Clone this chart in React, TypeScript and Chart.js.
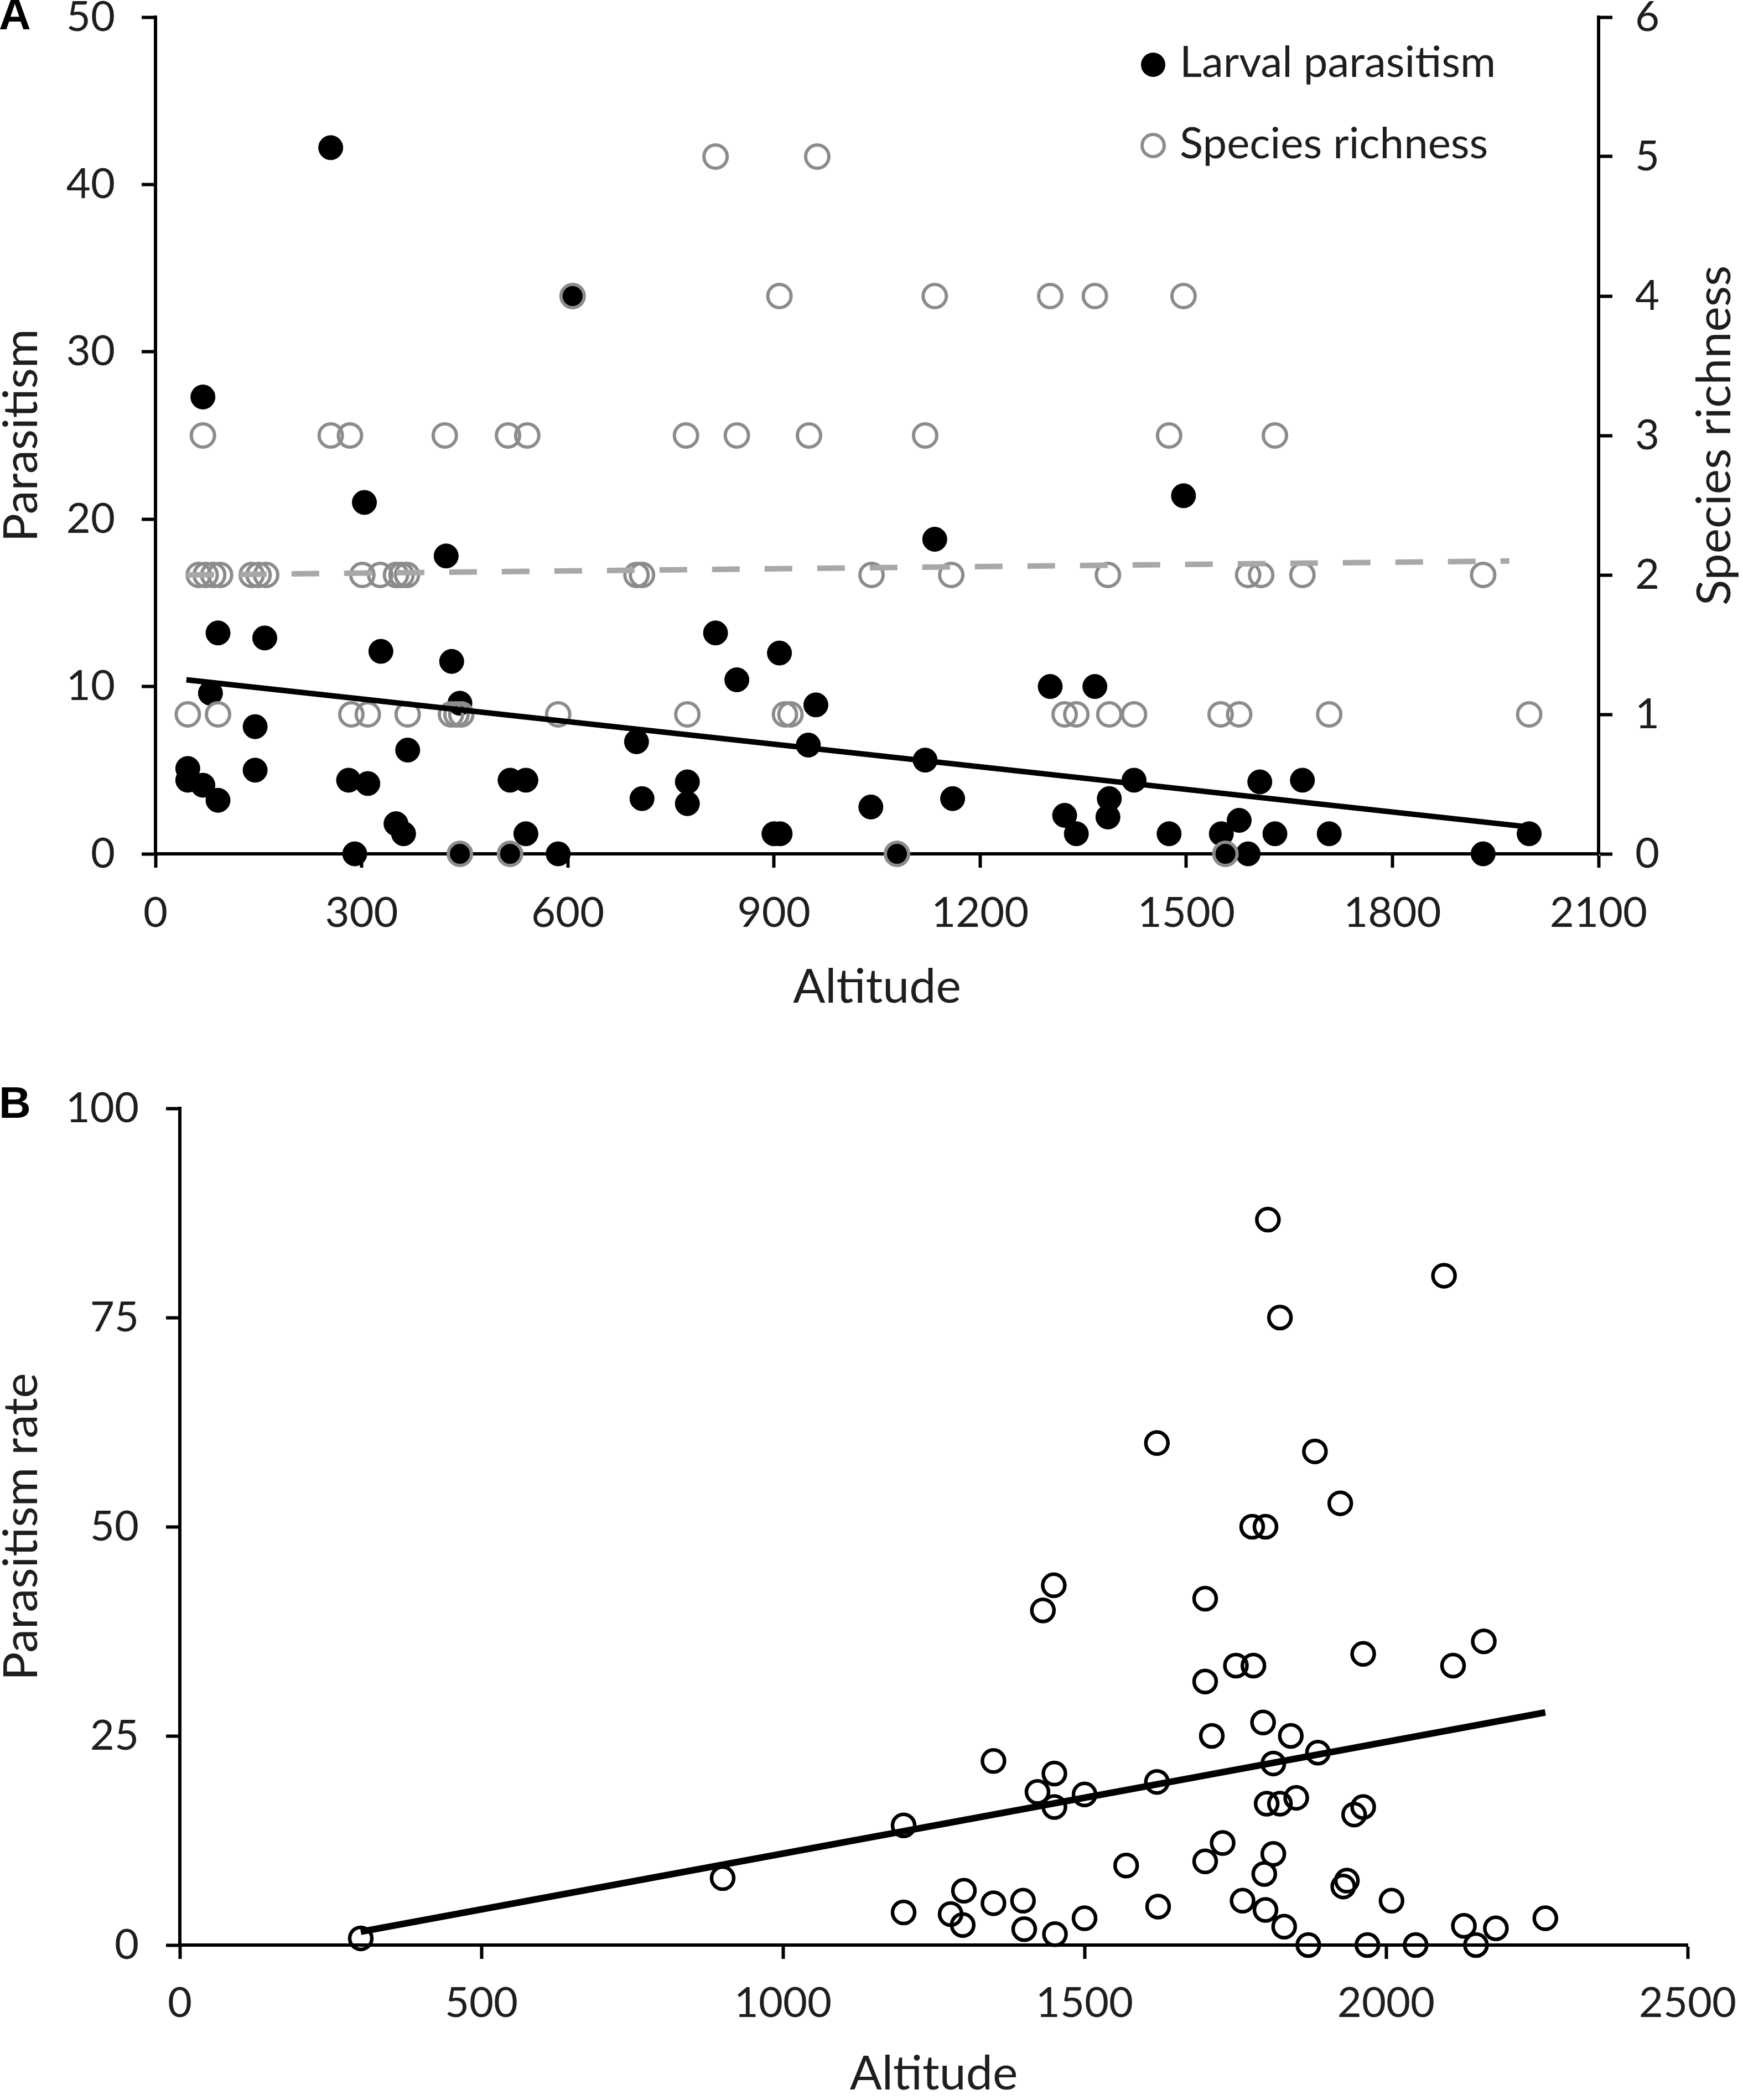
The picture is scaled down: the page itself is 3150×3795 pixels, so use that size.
import { Chart, registerables } from "chart.js";
import type { ChartConfiguration, Plugin } from "chart.js";
import { useEffect, useRef } from "react";

Chart.register(...registerables);

// ---- Panel A: larval parasitism (%) and parasitoid species richness by altitude (m)
const larvalAltitude = [
  47, 47, 69, 69, 80, 91, 91, 145, 145, 159, 255, 281, 290, 304, 309, 328, 350, 361, 367, 423, 431, 443,
  443, 516, 516, 539, 539, 586, 607, 700, 708, 774, 774, 815, 846, 900, 909, 908, 950, 961, 1041, 1079,
  1120, 1134, 1160, 1302, 1323, 1340, 1367, 1386, 1388, 1424, 1475, 1496, 1551, 1557, 1577, 1590, 1607,
  1629, 1669, 1708, 1932, 1999,
];
const larvalParasitism = [
  5.1, 4.4, 27.3, 4.1, 9.6, 13.2, 3.2, 7.6, 5.0, 12.9, 42.2, 4.4, 0, 21.0, 4.2, 12.1, 1.8, 1.2, 6.2, 17.8,
  11.5, 9.0, 0, 0, 4.4, 4.4, 1.2, 0, 33.3, 6.7, 3.3, 4.3, 3.0, 13.2, 10.4, 1.2, 1.2, 12.0, 6.5, 8.9, 2.8,
  0, 5.6, 18.8, 3.3, 10.0, 2.3, 1.2, 10.0, 2.2, 3.3, 4.4, 1.2, 21.4, 1.2, 0, 2.0, 0, 4.3, 1.2, 4.4, 1.2,
  0, 1.2,
];
const richnessAltitude = [
  815, 963,
  607, 908, 1134, 1302, 1367, 1496,
  69, 255, 283, 421, 513, 541, 772, 846, 951, 1120, 1475, 1629,
  63, 73, 84, 94, 140, 150, 161, 301, 327, 350, 358, 366, 700, 708, 1042, 1158, 1386, 1590, 1609, 1669, 1932,
  47, 91, 285, 309, 367, 430, 438, 445, 586, 774, 916, 924, 1323, 1340, 1388, 1424, 1550, 1577, 1708, 1999,
  443, 516, 1079, 1557,
];
const richnessValue = [
  5, 5,
  4, 4, 4, 4, 4, 4,
  3, 3, 3, 3, 3, 3, 3, 3, 3, 3, 3, 3,
  2, 2, 2, 2, 2, 2, 2, 2, 2, 2, 2, 2, 2, 2, 2, 2, 2, 2, 2, 2, 2,
  1, 1, 1, 1, 1, 1, 1, 1, 1, 1, 1, 1, 1, 1, 1, 1, 1, 1, 1, 1,
  0, 0, 0, 0,
];
const larvalTrendAltitude = [45, 2000];
const larvalTrendValue = [10.4, 1.6];
const richnessTrendAltitude = [45, 1970];
const richnessTrendValue = [2.0, 2.1];

// ---- Panel B: parasitism rate (%) by altitude (m)
const rateAltitude = [
  300, 900, 1200, 1200, 1278, 1300, 1298, 1349, 1349, 1398, 1400, 1422, 1431, 1449, 1450, 1450, 1451,
  1500, 1500, 1569, 1620, 1620, 1622, 1700, 1700, 1711, 1700, 1729, 1751, 1780, 1778, 1800, 1804, 1824,
  1796, 1813, 1842, 1887, 1882, 1924, 1802, 1824, 1851, 1813, 1798, 1762, 1800, 1831, 1871, 1929, 1935,
  1947, 1962, 1962, 2009, 1969, 2049, 2096, 2111, 2162, 2129, 2149, 2182, 2264,
];
const rateValue = [
  0.8, 8.0, 14.3, 3.9, 3.7, 6.5, 2.4, 22.0, 5.0, 5.3, 1.9, 18.3, 40.0, 43.0, 20.5, 16.5, 1.3, 18.0, 3.2,
  9.5, 19.5, 60.0, 4.6, 41.4, 31.5, 25.0, 10.0, 12.2, 33.4, 33.4, 50.0, 50.0, 86.7, 75.0, 26.6, 21.7, 25.0,
  23.0, 59.0, 52.8, 16.9, 16.9, 17.6, 10.9, 8.5, 5.3, 4.2, 2.2, 0, 7.0, 7.7, 15.6, 16.5, 34.8, 5.3, 0, 0,
  80.0, 33.4, 36.3, 2.3, 0, 2.0, 3.2,
];
const rateTrendAltitude = [300, 2264];
const rateTrendValue = [1.6, 27.8];

const FONT = "Lato";
const TEXT = "#1e1e1e";
const AXIS = "#000000";

const pts = (xs: number[], ys: number[]) => xs.map((x, i) => ({ x, y: ys[i] }));

const tickFont = { family: FONT, size: 76 };
const titleFont = { family: FONT, size: 86, lineHeight: 1 };
const plainNumber = (v: number | string) => String(v);

function fixWidth(w: number) {
  return (scale: any) => {
    scale.width = w;
    scale.paddingTop = 0;
    scale.paddingBottom = 0;
  };
}
function fixHeight(h: number) {
  return (scale: any) => {
    scale.height = h;
    scale.paddingLeft = 0;
    scale.paddingRight = 0;
  };
}

const axisStyle = {
  grid: { drawOnChartArea: false, drawTicks: true, tickLength: 25, tickWidth: 6, tickColor: AXIS },
  border: { display: true, color: AXIS, width: 6 },
};

function panelLetter(letter: string, y: number): Plugin {
  return {
    id: "panelLetter" + letter,
    afterDraw(chart) {
      const ctx = chart.ctx;
      ctx.save();
      ctx.fillStyle = "#000";
      ctx.font = 'bold 80px "Liberation Sans"';
      ctx.textAlign = "left";
      ctx.textBaseline = "middle";
      ctx.fillText(letter, -2, y);
      ctx.restore();
    },
  };
}

const panelAExtras: Plugin = {
  id: "panelAExtras",
  afterDraw(chart) {
    const ctx = chart.ctx;
    const { top, bottom } = chart.chartArea;
    ctx.save();
    // legend
    ctx.font = `78px ${FONT}`;
    ctx.textAlign = "left";
    ctx.textBaseline = "middle";
    ctx.fillStyle = "#000";
    ctx.beginPath();
    ctx.arc(2084, 117, 22, 0, Math.PI * 2);
    ctx.fill();
    ctx.strokeStyle = "#8c8c8c";
    ctx.lineWidth = 6;
    ctx.beginPath();
    ctx.arc(2084, 263, 20, 0, Math.PI * 2);
    ctx.stroke();
    ctx.fillStyle = TEXT;
    ctx.fillText("Larval parasitism", 2132, 114);
    ctx.fillText("Species richness", 2132, 261);
    // right axis title, reading bottom to top
    ctx.translate(3099, (top + bottom) / 2);
    ctx.rotate(-Math.PI / 2);
    ctx.textAlign = "center";
    ctx.font = `86px ${FONT}`;
    ctx.fillText("Species richness", 0, 0);
    ctx.restore();
  },
};

function makePanelA(): ChartConfiguration<"scatter"> {
  return {
    type: "scatter",
    data: {
      // first dataset is drawn on top
      datasets: [
        {
          label: "Larval parasitism trend",
          data: pts(larvalTrendAltitude, larvalTrendValue),
          showLine: true,
          borderColor: "#000",
          borderWidth: 10,
          pointRadius: 0,
          yAxisID: "y",
          clip: false,
        },
        {
          label: "Species richness trend",
          data: pts(richnessTrendAltitude, richnessTrendValue),
          showLine: true,
          borderColor: "#a8a8a8",
          borderWidth: 10,
          borderDash: [50, 45],
          pointRadius: 0,
          yAxisID: "y1",
          clip: false,
        },
        {
          label: "Species richness",
          data: pts(richnessAltitude, richnessValue),
          pointRadius: 21,
          backgroundColor: "rgba(255,255,255,0)",
          borderColor: "#8c8c8c",
          borderWidth: 6,
          yAxisID: "y1",
          clip: false,
        },
        {
          label: "Larval parasitism",
          data: pts(larvalAltitude, larvalParasitism),
          pointRadius: 22,
          backgroundColor: "#000",
          borderColor: "#000",
          borderWidth: 1,
          yAxisID: "y",
          clip: false,
        },
      ],
    },
    options: {
      animation: false,
      responsive: false,
      devicePixelRatio: 1,
      layout: { padding: { top: 31, left: 0, right: 0, bottom: 0 } },
      plugins: { legend: { display: false }, tooltip: { enabled: false } },
      scales: {
        x: {
          type: "linear",
          position: "bottom",
          min: 0,
          max: 2100,
          ...axisStyle,
          ticks: { stepSize: 300, autoSkip: false, maxRotation: 0, padding: 37, color: TEXT, font: tickFont, callback: plainNumber },
          title: { display: true, text: "Altitude", color: TEXT, font: titleFont, padding: { top: 0, bottom: 3 } },
          afterFit: fixHeight(287),
        },
        y: {
          type: "linear",
          position: "left",
          min: 0,
          max: 50,
          ...axisStyle,
          ticks: { stepSize: 10, padding: 48, color: TEXT, font: tickFont, callback: plainNumber },
          title: { display: true, text: "Parasitism", color: TEXT, font: titleFont, padding: { top: -4, bottom: 0 } },
          afterFit: fixWidth(281),
        },
        y1: {
          type: "linear",
          position: "right",
          min: 0,
          max: 6,
          ...axisStyle,
          ticks: { stepSize: 1, padding: 41, color: TEXT, font: tickFont, callback: plainNumber },
          afterFit: fixWidth(261),
        },
      },
    },
    plugins: [panelLetter("A", 31), panelAExtras],
  };
}

function makePanelB(): ChartConfiguration<"scatter"> {
  return {
    type: "scatter",
    data: {
      datasets: [
        {
          label: "Parasitism rate",
          data: pts(rateAltitude, rateValue),
          pointRadius: 20,
          backgroundColor: "rgba(255,255,255,0)",
          borderColor: "#000",
          borderWidth: 6.5,
          clip: false,
        },
        {
          label: "Parasitism rate trend",
          data: pts(rateTrendAltitude, rateTrendValue),
          showLine: true,
          borderColor: "#000",
          borderWidth: 12,
          pointRadius: 0,
          clip: false,
        },
      ],
    },
    options: {
      animation: false,
      responsive: false,
      devicePixelRatio: 1,
      layout: { padding: { top: 173, left: 0, right: 100, bottom: 0 } },
      plugins: { legend: { display: false }, tooltip: { enabled: false } },
      scales: {
        x: {
          type: "linear",
          position: "bottom",
          min: 0,
          max: 2500,
          ...axisStyle,
          ticks: { stepSize: 500, autoSkip: false, maxRotation: 0, padding: 35, color: TEXT, font: tickFont, callback: plainNumber },
          title: { display: true, text: "Altitude", color: TEXT, font: titleFont, padding: { top: 0, bottom: 4 } },
          afterFit: fixHeight(280),
        },
        y: {
          type: "linear",
          position: "left",
          min: 0,
          max: 100,
          ...axisStyle,
          ticks: { stepSize: 25, padding: 49, color: TEXT, font: tickFont, callback: plainNumber },
          title: { display: true, text: "Parasitism rate", color: TEXT, font: titleFont, padding: { top: -4, bottom: 0 } },
          afterFit: fixWidth(325),
        },
      },
    },
    plugins: [panelLetter("B", 168)],
  };
}

function PanelChart(props: { make: () => ChartConfiguration<"scatter">; width: number; height: number }) {
  const canvasRef = useRef<HTMLCanvasElement | null>(null);

  useEffect(() => {
    const canvas = canvasRef.current;
    if (!canvas) return;
    const chart = new Chart(canvas, props.make());
    return () => {
      chart.destroy();
    };
  }, [props.make]);

  return (
    <canvas
      ref={canvasRef}
      width={props.width}
      height={props.height}
      style={{ display: "block", width: props.width, height: props.height }}
    />
  );
}

export default function App() {
  useEffect(() => {
    document.body.style.margin = "0";
    document.body.style.overflow = "hidden";
    document.body.style.background = "#fff";
  }, []);

  return (
    <div style={{ width: 3150, height: 3795, background: "#fff" }}>
      <PanelChart make={makePanelA} width={3150} height={1830} />
      <PanelChart make={makePanelB} width={3150} height={1965} />
    </div>
  );
}
